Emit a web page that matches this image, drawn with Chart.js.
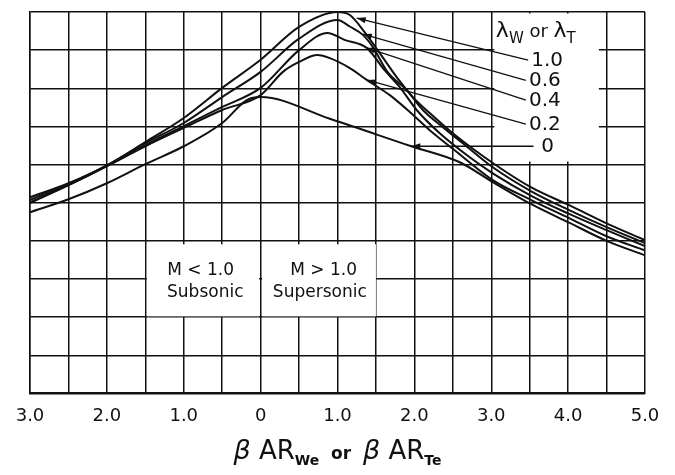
<!DOCTYPE html>
<html>
<head>
<meta charset="utf-8">
<script src="https://cdn.jsdelivr.net/npm/chart.js@4.4.1/dist/chart.umd.min.js"></script>
<style>
  html, body { margin: 0; padding: 0; background: #fff; }
</style>
</head>
<body>
<canvas id="chart" width="675" height="475"></canvas>
<script>
// x axis: beta*AR, subsonic side drawn to the left of 0
const tickValues = [-3, -2, -1, 0, 1, 2, 3, 4, 5];
const tickLabels = ['3.0', '2.0', '1.0', '0', '1.0', '2.0', '3.0', '4.0', '5.0'];

// lambda = 1.0
const x10 = [-3, -2.5, -2, -1.5, -1, -0.5, 0, 0.5, 1.0, 1.16, 1.35, 1.55, 1.77, 1.98, 2.2, 2.5, 3.02, 3.52, 4.02, 4.5, 5.0];
const y10 = [5.14, 5.51, 5.98, 6.59, 7.22, 8.01, 8.75, 9.61, 10.0, 9.92, 9.48, 8.92, 8.29, 7.77, 7.35, 6.82, 6.04, 5.4, 4.93, 4.46, 4.02];
// lambda = 0.6
const x06 = [-3, -2.5, -2, -1.5, -1, -0.5, 0, 0.5, 1.0, 1.16, 1.33, 1.46, 1.65, 1.9, 2.11, 2.37, 2.63, 3.02, 3.52, 4.02, 4.5, 5.0];
const y06 = [5.07, 5.49, 5.98, 6.56, 7.09, 7.77, 8.43, 9.3, 9.79, 9.62, 9.4, 9.08, 8.43, 7.95, 7.43, 6.98, 6.56, 5.93, 5.3, 4.8, 4.36, 3.94];
// lambda = 0.4
const x04 = [-3, -2.5, -2, -1.5, -1, -0.5, 0, 0.5, 0.87, 1.09, 1.38, 1.61, 1.81, 2.03, 2.33, 2.72, 3.02, 3.52, 4.02, 4.5, 5.0];
const y04 = [5.01, 5.46, 5.96, 6.51, 7.01, 7.51, 8.01, 9.0, 9.45, 9.27, 9.06, 8.48, 8.03, 7.43, 6.82, 6.19, 5.77, 5.18, 4.7, 4.28, 3.86];
// lambda = 0.2
const x02 = [-3, -2.5, -2, -1.5, -1, -0.5, 0, 0.29, 0.5, 0.74, 0.9, 1.16, 1.38, 1.68, 1.94, 2.2, 2.52, 3.02, 3.52, 4.02, 4.5, 5.0];
const y02 = [4.99, 5.46, 5.96, 6.48, 6.96, 7.43, 7.82, 8.43, 8.69, 8.87, 8.79, 8.53, 8.22, 7.82, 7.38, 6.9, 6.38, 5.59, 5.07, 4.59, 4.12, 3.75];
// lambda = 0
const x00 = [-3, -2.5, -2, -1.5, -1, -0.5, -0.18, 0, 0.9, 1.96, 2.59, 3.02, 3.52, 4.02, 4.5, 5.0];
const y00 = [4.75, 5.09, 5.51, 6.01, 6.48, 7.09, 7.69, 7.77, 7.2, 6.48, 6.06, 5.54, 4.96, 4.47, 4.0, 3.62];

const curveLabels = ['1.0', '0.6', '0.4', '0.2', '0'];
// leader lines: point on curve -> near label
const leadFromX = [1.25, 1.33, 1.38, 1.38, 1.96];
const leadFromY = [9.84, 9.42, 9.06, 8.22, 6.48];
const leadToX = [3.48, 3.45, 3.45, 3.45, 3.55];
const leadToY = [8.74, 8.21, 7.69, 7.06, 6.48];

const pts = (xs, ys) => xs.map((v, i) => ({ x: v, y: ys[i] }));

const curves = [[x10, y10], [x06, y06], [x04, y04], [x02, y02], [x00, y00]];
const datasets = curves.map((c, i) => ({
  label: 'λ = ' + curveLabels[i],
  data: pts(c[0], c[1]),
  showLine: true,
  borderColor: '#111',
  borderWidth: 2,
  pointRadius: 0,
  cubicInterpolationMode: 'monotone'
}));
curveLabels.forEach((l, i) => {
  datasets.push({
    label: 'leader ' + l,
    data: [{ x: leadFromX[i], y: leadFromY[i] }, { x: leadToX[i], y: leadToY[i] }],
    showLine: true,
    borderColor: '#111',
    borderWidth: 1.3,
    pointRadius: 0
  });
});

Chart.defaults.font.family = 'DejaVu Sans';
Chart.defaults.color = '#111';

const deco = {
  id: 'deco',
  beforeDatasetsDraw(chart) {
    const { ctx, scales: { x, y } } = chart;
    // white panels that hide the grid behind the lettering
    const boxes = [[-1.48, -0.02, 2.02, 3.91], [0.02, 1.5, 2.02, 3.91], [3.04, 4.4, 6.08, 9.96]];
    ctx.save();
    ctx.fillStyle = '#fff';
    boxes.forEach(b => {
      const l = x.getPixelForValue(b[0]), r = x.getPixelForValue(b[1]);
      const t = y.getPixelForValue(b[3]), bt = y.getPixelForValue(b[2]);
      ctx.fillRect(l, t, r - l, bt - t);
    });
    ctx.restore();
  },
  afterDatasetsDraw(chart) {
    const { ctx, scales: { x, y } } = chart;
    ctx.save();
    ctx.fillStyle = '#111';
    // arrowheads
    curveLabels.forEach((l, i) => {
      const px = x.getPixelForValue(leadFromX[i]), py = y.getPixelForValue(leadFromY[i]);
      const qx = x.getPixelForValue(leadToX[i]), qy = y.getPixelForValue(leadToY[i]);
      const a = Math.atan2(py - qy, px - qx);
      ctx.beginPath();
      ctx.moveTo(px, py);
      ctx.lineTo(px - 9 * Math.cos(a) + 3 * Math.sin(a), py - 9 * Math.sin(a) - 3 * Math.cos(a));
      ctx.lineTo(px - 9 * Math.cos(a) - 3 * Math.sin(a), py - 9 * Math.sin(a) + 3 * Math.cos(a));
      ctx.closePath();
      ctx.fill();
    });
    // curve labels
    ctx.font = '20px "DejaVu Sans"';
    ctx.textBaseline = 'middle';
    ctx.textAlign = 'left';
    curveLabels.forEach((l, i) => {
      const dx = l === '0' ? 0.1 : 0.04;
      ctx.fillText(l, x.getPixelForValue(leadToX[i] + dx), y.getPixelForValue(leadToY[i]) + 1);
    });
    // legend heading: lambda_W or lambda_T
    let cx = x.getPixelForValue(3.06), by = y.getPixelForValue(9.35);
    ctx.textBaseline = 'alphabetic';
    const big = '22px "DejaVu Sans"', sub = '15px "DejaVu Sans"', mid = '18px "DejaVu Sans"';
    const run = [['λ', big, 0], ['W', sub, 6], [' or ', mid, 0], ['λ', big, 0], ['T', sub, 6]];
    run.forEach(r => {
      ctx.font = r[1];
      ctx.fillText(r[0], cx, by + r[2]);
      cx += ctx.measureText(r[0]).width;
    });
    // regime notes
    ctx.font = '17px "DejaVu Sans"';
    ctx.textAlign = 'center';
    ctx.textBaseline = 'middle';
    ctx.fillText('M < 1.0', x.getPixelForValue(-0.78), y.getPixelForValue(3.23));
    ctx.fillText('Subsonic', x.getPixelForValue(-0.72), y.getPixelForValue(2.65));
    ctx.fillText('M > 1.0', x.getPixelForValue(0.82), y.getPixelForValue(3.23));
    ctx.fillText('Supersonic', x.getPixelForValue(0.77), y.getPixelForValue(2.65));
    ctx.restore();
  },
  afterDraw(chart) {
    const { ctx, chartArea } = chart;
    ctx.save();
    ctx.fillStyle = '#111';
    ctx.textBaseline = 'alphabetic';
    const main = 'italic 27px "DejaVu Sans"', ar = '26px "DejaVu Sans"', sb = 'bold 14px "DejaVu Sans"', orf = 'bold 17px "DejaVu Sans"';
    const run = [['β', main, 0], [' AR', ar, 0], ['We', sb, 6], ['  or  ', orf, 0], ['β', main, 0], [' AR', ar, 0], ['Te', sb, 6]];
    let w = 0;
    run.forEach(r => { ctx.font = r[1]; w += ctx.measureText(r[0]).width; });
    let cx = (chartArea.left + chartArea.right) / 2 - w / 2;
    const by = chartArea.bottom + 66;
    run.forEach(r => {
      ctx.font = r[1];
      ctx.fillText(r[0], cx, by + r[2]);
      cx += ctx.measureText(r[0]).width;
    });
    ctx.restore();
  }
};

new Chart(document.getElementById('chart'), {
  type: 'scatter',
  data: { datasets },
  options: {
    responsive: false,
    animation: false,
    layout: { padding: { left: 30, right: 30, top: 12, bottom: 36 } },
    plugins: { legend: { display: false }, tooltip: { enabled: false } },
    scales: {
      x: {
        type: 'linear',
        min: -3, max: 5,
        grid: { color: '#111', lineWidth: 1.5, drawTicks: false },
        border: { color: '#111', width: 2 },
        ticks: {
          stepSize: 0.5,
          autoSkip: false,
          padding: 12,
          font: { size: 18 },
          color: '#111',
          callback: v => {
            const i = tickValues.indexOf(v);
            return i >= 0 ? tickLabels[i] : '';
          }
        }
      },
      y: {
        min: 0, max: 10,
        grid: { color: '#111', lineWidth: 1.5, drawTicks: false },
        border: { color: '#111', width: 1.5 },
        ticks: { stepSize: 1, display: false }
      }
    }
  },
  plugins: [deco]
});
</script>
</body>
</html>
